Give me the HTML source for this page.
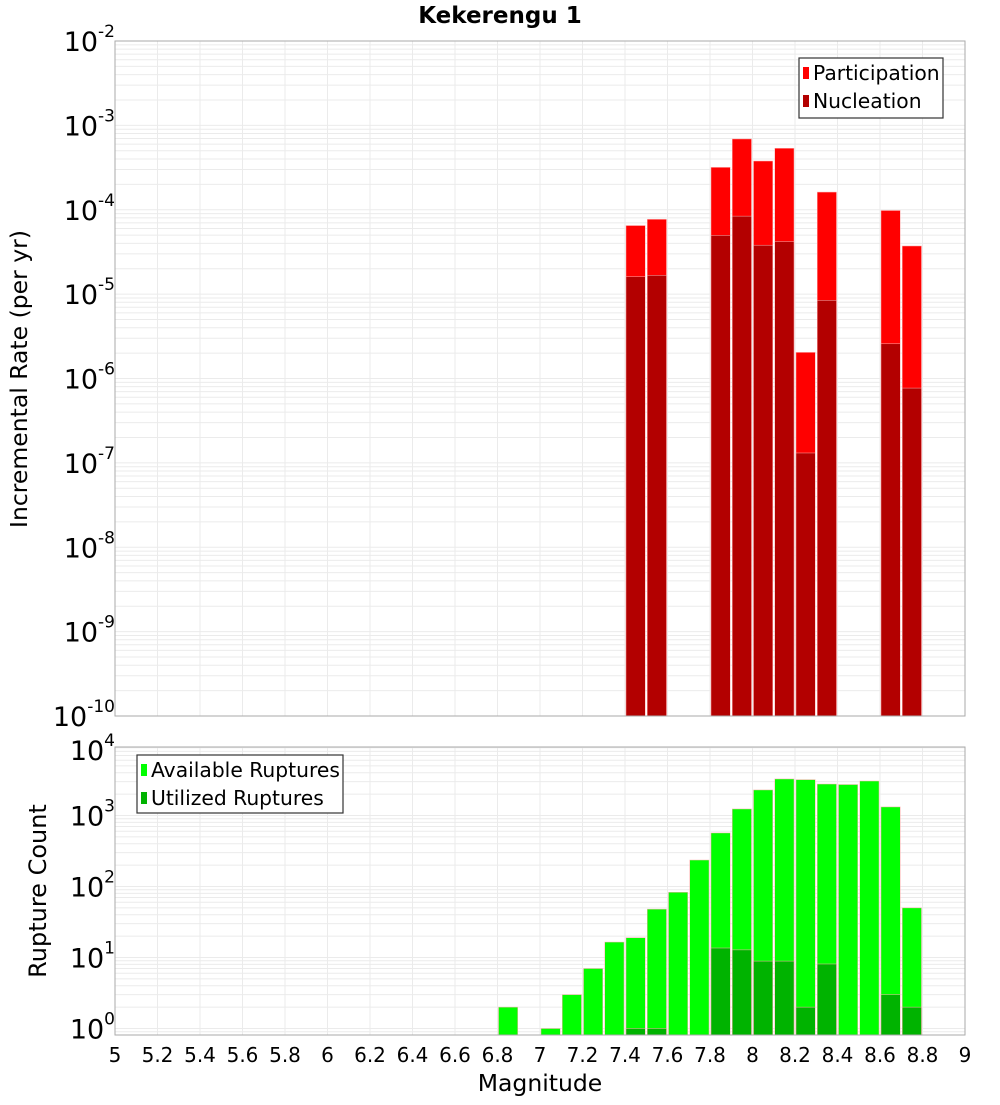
<!DOCTYPE html>
<html><head><meta charset="utf-8"><style>
body{margin:0;background:#fff;}
svg text{font-family:"DejaVu Sans","Liberation Sans",sans-serif;}
</style></head><body>
<svg id="chart" width="1000" height="1100" xmlns="http://www.w3.org/2000/svg"></svg>
<script>
const binCenters=[6.85,7.05,7.15,7.25,7.35,7.45,7.55,7.65,7.75,7.85,7.95,8.05,8.15,8.25,8.35,8.45,8.55,8.65,8.75];
const topMags=[7.45,7.55,7.85,7.95,8.05,8.15,8.25,8.35,8.65,8.75];
const participation=[6.5e-5,7.7e-5,3.18e-4,6.9e-4,3.78e-4,5.35e-4,2.04e-6,1.62e-4,9.8e-5,3.72e-5];
const nucleation=[1.61e-5,1.67e-5,4.97e-5,8.4e-5,3.8e-5,4.2e-5,1.31e-7,8.45e-6,2.58e-6,7.7e-7];
const available=[2,1,3,7,16.5,19,48,83,236,568,1236,2290,3270,3200,2775,2730,3060,1320,50];
const utilMags=[7.45,7.55,7.85,7.95,8.05,8.15,8.25,8.35,8.65,8.75];
const utilized=[1,1,13.6,12.8,8.9,8.9,2,8.1,3,2];
const xTicks=[5,5.2,5.4,5.6,5.8,6,6.2,6.4,6.6,6.8,7,7.2,7.4,7.6,7.8,8,8.2,8.4,8.6,8.8,9];
const topExps=[-10,-9,-8,-7,-6,-5,-4,-3,-2];
const botExps=[0,1,2,3,4];

const S=document.getElementById('chart');const NS='http://www.w3.org/2000/svg';
function mk(t,a,p){const e=document.createElementNS(NS,t);for(const k in a)e.setAttribute(k,a[k]);(p||S).appendChild(e);return e;}
const X0=115,X1=965;
const xs=m=>X0+(m-5)/4*(X1-X0);
const yTop=v=>41+(-2-Math.log10(v))*84.375;
const yBot=v=>1028.5-71*Math.log10(v);
const TT=41,TB=716,BT=747,BB=1035;

function grid(top,bot,ys,eMin,eMax){
  for(let e=eMin;e<=eMax;e++)for(let k=1;k<10;k++){const y=ys(k*Math.pow(10,e));if(y<top||y>bot)continue;
    const l=mk('line',{x1:X0,x2:X1,y1:y,y2:y,stroke:'#ebebeb','stroke-width':1});
    }
  xTicks.forEach(m=>{const l=mk('line',{x1:xs(m),x2:xs(m),y1:top,y2:bot,stroke:'#ebebeb','stroke-width':1});
    });
}
grid(TT,TB,yTop,-10,-3);grid(BT,BB,yBot,-1,3);

function bar(m,v,ys,bot,fill,name){const y=ys(v);const w=(X1-X0)/40;
  const r=mk('rect',{x:xs(m)-w/2+1,y:y,width:w-2,height:bot-y,fill:fill,stroke:'#ffb0b0','stroke-width':0.5});
  }
topMags.forEach((m,i)=>bar(m,participation[i],yTop,TB,'#ff0000','participation-bar'));
topMags.forEach((m,i)=>bar(m,nucleation[i],yTop,TB,'#b30000','nucleation-bar'));
binCenters.forEach((m,i)=>bar(m,available[i],yBot,BB,'#00ff00','available-bar'));
utilMags.forEach((m,i)=>bar(m,utilized[i],yBot,BB,'#00b300','utilized-bar'));

let f=mk('rect',{x:X0,y:TT,width:X1-X0,height:TB-TT,fill:'none',stroke:'#aaa'});

f=mk('rect',{x:X0,y:BT,width:X1-X0,height:BB-BT,fill:'none',stroke:'#aaa'});


function ylab(exp,y,name){const t=mk('text',{x:115,y:y+10,'text-anchor':'end','font-size':27});
  t.textContent='10';const s=mk('tspan',{dy:-14,'font-size':17});s.textContent=String(exp);t.appendChild(s);
  }
topExps.forEach(e=>ylab(e,yTop(Math.pow(10,e)),'top-y-tick-label'));
botExps.forEach(e=>ylab(e,Math.max(yBot(Math.pow(10,e)),BT+3),'bottom-y-tick-label'));
xTicks.forEach(m=>{const t=mk('text',{x:xs(m),y:1062,'text-anchor':'middle','font-size':20});t.textContent=String(m);
  });

let t=mk('text',{x:500,y:23,'text-anchor':'middle','font-size':23,'font-weight':'bold'});t.textContent='Kekerengu 1';

t=mk('text',{x:540,y:1091,'text-anchor':'middle','font-size':23.5});t.textContent='Magnitude';

t=mk('text',{x:0,y:0,'text-anchor':'middle','font-size':23.5,transform:'translate(27,379) rotate(-90)'});t.textContent='Incremental Rate (per yr)';

t=mk('text',{x:0,y:0,'text-anchor':'middle','font-size':24,transform:'translate(46,891) rotate(-90)'});t.textContent='Rupture Count';


function legend(x,y,w,h,items,name){const g=mk('g',{});
  mk('rect',{x:x,y:y,width:w,height:h,fill:'#fff',stroke:'#333','stroke-width':1.2},g);
  items.forEach((it,i)=>{const cy=y+15+i*28;mk('rect',{x:x+4,y:cy-6,width:6,height:12,fill:it[1]},g);
    const tt=mk('text',{x:x+14,y:cy+7,'font-size':20.3},g);tt.textContent=it[0];
    });}
legend(799,58,144,60,[['Participation','#ff0000'],['Nucleation','#b30000']],'top-legend');
legend(137,755,206,58,[['Available Ruptures','#00ff00'],['Utilized Ruptures','#00b300']],'bottom-legend');
</script>
</body></html>
